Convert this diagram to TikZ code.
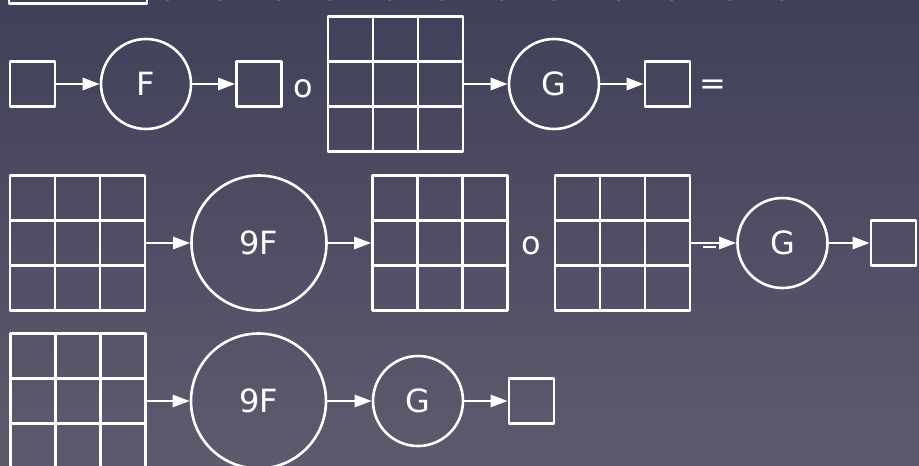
\documentclass[tikz,border=0pt]{standalone}
\usepackage{fontspec}
\setmainfont{DejaVu Sans}
\usetikzlibrary{arrows.meta,calc}

\definecolor{slidetop}{HTML}{41405A}
\definecolor{slidebottom}{HTML}{5C5B6E}

\tikzset{
  wire/.style={white,line width=2.6pt},
  cellbox/.style={wire,draw,rectangle,minimum size=45pt,inner sep=0pt},
  gridbox/.style={cellbox,minimum size=135pt,path picture={
      \foreach \k in {1,2} {
        \draw[wire] ($(path picture bounding box.north west)!\k/3!(path picture bounding box.north east)$)
          -- ($(path picture bounding box.south west)!\k/3!(path picture bounding box.south east)$);
        \draw[wire] ($(path picture bounding box.north west)!\k/3!(path picture bounding box.south west)$)
          -- ($(path picture bounding box.north east)!\k/3!(path picture bounding box.south east)$);
      }}},
  funcnode/.style={wire,draw,circle,minimum size=90pt,inner sep=0pt,text=white,
    font=\fontsize{32}{38}\selectfont},
  bigfunc/.style={funcnode,minimum size=135pt},
  optext/.style={text=white,inner sep=0pt,font=\fontsize{32}{38}\selectfont},
  flow/.style={wire,-{Triangle[length=17pt,width=12pt]}},
}

\begin{document}
\begin{tikzpicture}[x=1pt,y=-1pt,line join=round]
  % Slide frame and backdrop.
  \useasboundingbox (0,0) rectangle (919,466);
  \shade[top color=slidetop,bottom color=slidebottom] (0,0) rectangle (919,466);

  % Cut-off line above the first row.
  \node[cellbox,minimum width=138pt,minimum height=60pt,anchor=south] (prev) at (78,5) {};
  \foreach \x [count=\i] in {166,223,277,333,388,445,500,557,617,675,728,785}
    \node[optext,anchor=base] (p\i) at (\x,-3.5) {\ifodd\i(\else)\fi};

  % Row 1: one cell through F, composed with the grid through G.
  \node[cellbox] (a1) at (32.5,84) {};
  \node[funcnode] (f1) at (146,84) {F};
  \node[cellbox] (a2) at (259,84) {};
  \node[optext] (o1) at (303,89) {o};
  \node[gridbox] (m1) at (395.5,84) {};
  \node[funcnode] (g1) at (554,84) {G};
  \node[cellbox] (a3) at (667.5,84) {};
  \node[optext] (eq) at (713,87) {=};

  \draw[flow] (a1) -- (f1);
  \draw[flow] (f1) -- (a2);
  \draw[flow] (m1) -- (g1);
  \draw[flow] (g1) -- (a3);

  % Row 2: the grid through 9F, composed with the grid through G.
  \node[gridbox] (m2) at (77.5,243) {};
  \node[bigfunc] (f2) at (259,243) {9F};
  \node[gridbox] (m3) at (440,243) {};
  \node[optext] (o2) at (531,246) {o};
  \node[gridbox] (m4) at (622.5,243) {};
  \node[funcnode] (g2) at (782.5,243) {G};
  \node[cellbox] (a4) at (893.5,243) {};

  \draw[flow] (m2) -- (f2);
  \draw[flow] (f2) -- (m3);
  \draw[flow] (m4) -- (g2);
  \draw[wire] ([xshift=12pt,yshift=-4pt]m4.east) -- ++(13,0);
  \draw[flow] (g2) -- (a4);

  % Row 3: 9F feeds G directly.
  \node[gridbox] (m5) at (78,401) {};
  \node[bigfunc] (f3) at (258.5,401) {9F};
  \node[funcnode] (g3) at (418,401) {G};
  \node[cellbox] (a5) at (531.5,401) {};

  \draw[flow] (m5) -- (f3);
  \draw[flow] (f3) -- (g3);
  \draw[flow] (g3) -- (a5);
\end{tikzpicture}
\end{document}
